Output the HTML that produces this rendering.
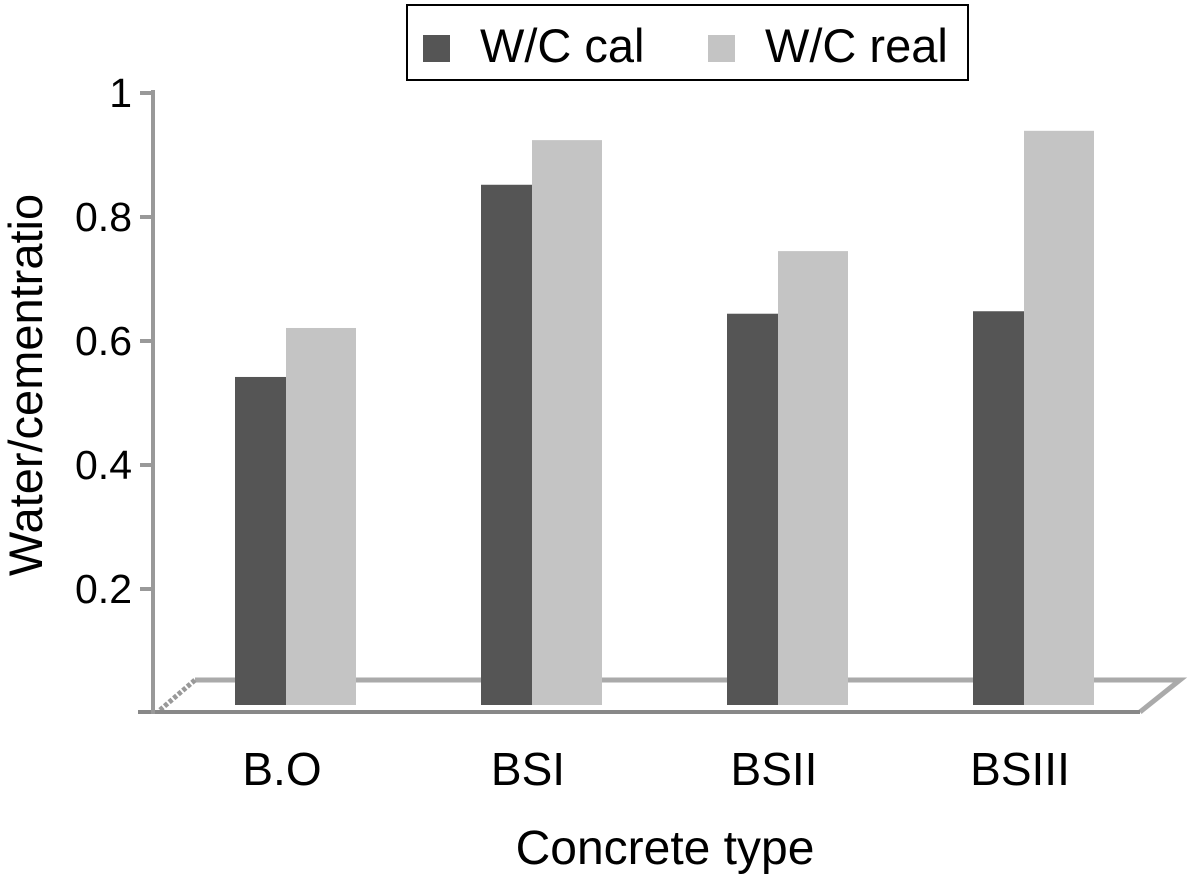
<!DOCTYPE html>
<html><head><meta charset="utf-8"><style>
body{margin:0;background:#fff;}
svg{display:block;font-family:"Liberation Sans",sans-serif;}
</style></head><body>
<svg id="c" width="1188" height="875">
<g>
<rect x="407" y="5" width="561" height="75" fill="#fff" stroke="#000" stroke-width="2"/>
<rect x="423" y="35" width="27" height="27" fill="#555"/>
<text x="480" y="62" font-size="47">W/C cal</text>
<rect x="708" y="35" width="27" height="27" fill="#c4c4c4"/>
<text x="765" y="62" font-size="47">W/C real</text>
</g>
<text transform="translate(42,385) rotate(-90)" text-anchor="middle" font-size="47">Water/cementratio</text>
<text x="665" y="864" text-anchor="middle" font-size="48">Concrete type</text>
<polyline points="195,680 1180,680 1140,712" fill="none" stroke="#aaa" stroke-width="5"/>
<line x1="160" y1="710" x2="195" y2="680" stroke="#999" stroke-width="5" stroke-dasharray="4,2"/>
<g id="bars"></g>
<line x1="138" y1="712" x2="1140" y2="712" stroke="#888" stroke-width="4"/>
<line x1="153" y1="90" x2="153" y2="714" stroke="#999" stroke-width="4"/>
<g id="ticks"></g>
</svg>
<script>
const categories=["B.O","BSI","BSII","BSIII"];
const calValues=[0.542,0.852,0.644,0.648];
const realValues=[0.621,0.924,0.745,0.939];
const tickValues=[0.2,0.4,0.6,0.8,1];
const tickLabels=["0.2","0.4","0.6","0.8","1"];
const NS="http://www.w3.org/2000/svg";
function y(v){return 713-v*620;}
function xc(i){return 286+i*246;}
const bars=document.getElementById('bars');
const ticks=document.getElementById('ticks');
function mk(tag,attrs,parent){const e=document.createElementNS(NS,tag);for(const k in attrs)e.setAttribute(k,attrs[k]);parent.appendChild(e);return e;}
categories.forEach((c,i)=>{
  const x=xc(i);
  const b1=mk('rect',{x:x-51,y:y(calValues[i]),width:51,height:705-y(calValues[i]),fill:'#555'},bars);
  
  
  const b2=mk('rect',{x:x,y:y(realValues[i]),width:70,height:705-y(realValues[i]),fill:'#c4c4c4'},bars);
  
  
  const t=mk('text',{x:x-4,y:785,'text-anchor':'middle','font-size':46},ticks);
  t.textContent=c;
  
  
});
tickValues.forEach((v,i)=>{
  const l=mk('line',{x1:140,y1:y(v),x2:153,y2:y(v),stroke:'#999','stroke-width':4},ticks);
  
  
  const t=mk('text',{x:132,y:y(v)+14,'text-anchor':'end','font-size':41},ticks);
  t.textContent=tickLabels[i];
  
  
});
</script>
</body></html>
